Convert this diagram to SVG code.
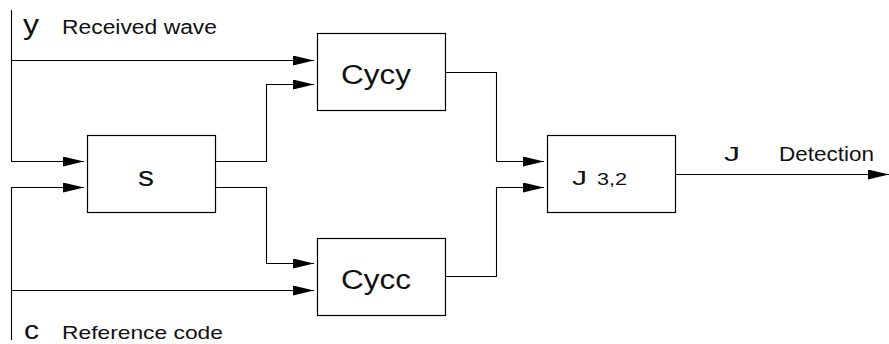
<svg xmlns="http://www.w3.org/2000/svg" width="889" height="344" viewBox="0 0 889 344">
  <style>
    .box { fill: #ffffff; stroke: #000000; stroke-width: 1.2; }
    .wire { fill: none; stroke: #000000; stroke-width: 1.1; }
    .lbl { font-family: "Liberation Sans", Arial, sans-serif; fill: #111111; }
  </style>
  <defs>
    <marker id="arrow" markerUnits="userSpaceOnUse" markerWidth="22" markerHeight="12" refX="21" refY="5" orient="auto">
      <path d="M0,0 L21,5 L0,10 z" fill="#000000"/>
    </marker>
  </defs>

  <!-- signal lines between the blocks -->
  <g id="connectors">
    <path class="wire" d="M11.5,10 V161.5 H84" marker-end="url(#arrow)"/>
    <path class="wire" d="M11.5,60.5 H314" marker-end="url(#arrow)"/>
    <path class="wire" d="M11.5,340 V187.5 H84" marker-end="url(#arrow)"/>
    <path class="wire" d="M11.5,290.5 H314" marker-end="url(#arrow)"/>
    <path class="wire" d="M215.5,161.5 H266.5 V84.5 H314" marker-end="url(#arrow)"/>
    <path class="wire" d="M215.5,187.5 H266.5 V263.5 H314" marker-end="url(#arrow)"/>
    <path class="wire" d="M445.5,72.5 H496.5 V161.5 H544" marker-end="url(#arrow)"/>
    <path class="wire" d="M445.5,276.5 H496.5 V187.5 H544" marker-end="url(#arrow)"/>
    <path class="wire" d="M675.5,174.5 H889" marker-end="url(#arrow)"/>
  </g>

  <!-- input / output labels -->
  <g id="labels">
    <text class="lbl" x="23" y="34" font-size="27" textLength="16" lengthAdjust="spacingAndGlyphs">y</text>
    <text class="lbl" x="62" y="34" font-size="20" textLength="155" lengthAdjust="spacingAndGlyphs">Received wave</text>
    <text class="lbl" x="24" y="339" font-size="25" textLength="15" lengthAdjust="spacingAndGlyphs">c</text>
    <text class="lbl" x="62" y="339" font-size="18.5" textLength="161" lengthAdjust="spacingAndGlyphs">Reference code</text>
    <text class="lbl" x="724" y="161" font-size="20" textLength="16" lengthAdjust="spacingAndGlyphs">J</text>
    <text class="lbl" x="779" y="161" font-size="19.5" textLength="95" lengthAdjust="spacingAndGlyphs">Detection</text>
  </g>

  <g id="node-s">
    <rect class="box" x="87.5" y="135.5" width="128" height="77"/>
    <text class="lbl" x="138" y="186" font-size="27" textLength="16" lengthAdjust="spacingAndGlyphs">s</text>
  </g>

  <g id="node-cycy">
    <rect class="box" x="317.5" y="33.5" width="128" height="77"/>
    <text class="lbl" x="341" y="84" font-size="27" textLength="70" lengthAdjust="spacingAndGlyphs">Cycy</text>
  </g>

  <g id="node-cycc">
    <rect class="box" x="317.5" y="238.5" width="128" height="77"/>
    <text class="lbl" x="341" y="289" font-size="27" textLength="70" lengthAdjust="spacingAndGlyphs">Cycc</text>
  </g>

  <g id="node-j32">
    <rect class="box" x="547.5" y="135.5" width="128" height="77"/>
    <text class="lbl" x="572" y="184.5" font-size="21" textLength="15" lengthAdjust="spacingAndGlyphs">J</text>
    <text class="lbl" x="597" y="184.5" font-size="16" textLength="30" lengthAdjust="spacingAndGlyphs">3,2</text>
  </g>
</svg>
